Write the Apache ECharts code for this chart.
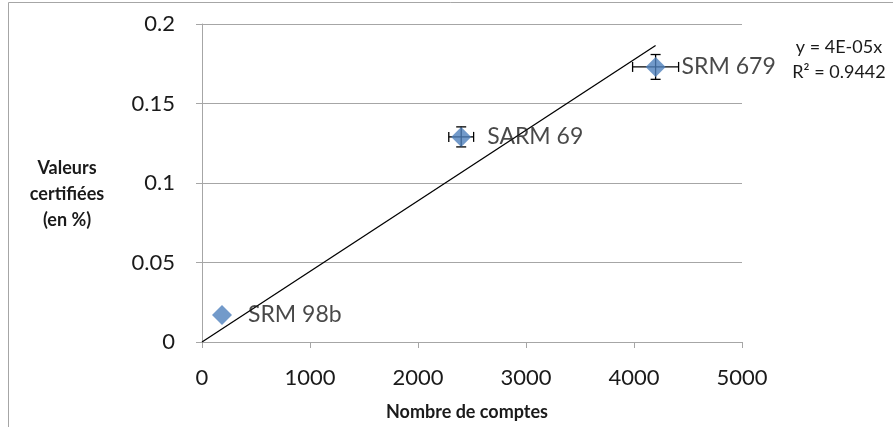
<!DOCTYPE html>
<html>
<head>
<meta charset="utf-8">
<script src="https://cdn.jsdelivr.net/npm/echarts@6/dist/echarts.min.js"></script>
<style>
html,body{margin:0;padding:0;background:#fff;}
#chart{width:893px;height:427px;}
</style>
</head>
<body>
<div id="chart"></div>
<script>
// ---- data ----
var sampleNames = ['SRM 98b', 'SARM 69', 'SRM 679'];
var countValues = [185, 2400, 4200];
var certifiedValues = [0.017, 0.129, 0.173];
var countErrors = [0, 115, 213];
var certifiedErrors = [0, 0.0063, 0.0078];
var trendX = [0, 4200];
var trendSlope = 4.44e-5;
var xTicks = [0, 1000, 2000, 3000, 4000, 5000];
var yTicks = [0, 0.05, 0.1, 0.15, 0.2];
var equationLines = ['y = 4E-05x', 'R² = 0.9442'];
var xTitle = 'Nombre de comptes';
var yTitle = 'Valeurs\ncertifiées\n(en %)';

var FONT = 'Lato, "Open Sans", sans-serif';
var TXT = '#1a1a1a';

var pointData = sampleNames.map(function (n, i) {
  return { name: n, value: [countValues[i], certifiedValues[i]] };
});
var errData = sampleNames.map(function (n, i) {
  return [countValues[i], certifiedValues[i], countErrors[i], certifiedErrors[i]];
});
var trendData = trendX.map(function (x) { return [x, x * trendSlope]; });

var chart = echarts.init(document.getElementById('chart'), null, { renderer: 'canvas' });

var option = {
  backgroundColor: '#fff',
  animation: false,
  grid: { left: 202, right: 151, top: 24, bottom: 85 },
  xAxis: {
    type: 'value', min: xTicks[0], max: xTicks[xTicks.length - 1], interval: xTicks[1] - xTicks[0],
    axisLine: { show: true, lineStyle: { color: '#a6a6a6', width: 1 } },
    axisTick: { show: true, length: 6, lineStyle: { color: '#a6a6a6' } },
    axisLabel: {
      color: TXT, fontSize: 22, fontFamily: FONT, margin: 25,
      formatter: function (v) { return String(v); }
    },
    splitLine: { show: false }
  },
  yAxis: {
    type: 'value', min: yTicks[0], max: yTicks[yTicks.length - 1], interval: 0.05,
    axisLine: { show: true, lineStyle: { color: '#a6a6a6', width: 1 } },
    axisTick: { show: true, length: 6, lineStyle: { color: '#a6a6a6' } },
    axisLabel: {
      color: TXT, fontSize: 22, fontFamily: FONT, margin: 27,
      formatter: function (v) { return String(+v.toFixed(2)); }
    },
    splitLine: { show: true, lineStyle: { color: '#a6a6a6', width: 1 } }
  },
  series: [
    {
      type: 'line', data: trendData, symbol: 'none', z: 3,
      lineStyle: { color: '#000', width: 1.3 }, silent: true
    },
    {
      type: 'custom', z: 4, data: errData,
      renderItem: function (params, api) {
        var x = api.value(0), y = api.value(1), ex = api.value(2), ey = api.value(3);
        var children = [];
        var style = { stroke: '#000', lineWidth: 1.3 };
        if (ex > 0) {
          var l = api.coord([x - ex, y]), r = api.coord([x + ex, y]);
          children.push({ type: 'line', shape: { x1: l[0], y1: l[1], x2: r[0], y2: r[1] }, style: style });
          children.push({ type: 'line', shape: { x1: l[0], y1: l[1] - 5, x2: l[0], y2: l[1] + 5 }, style: style });
          children.push({ type: 'line', shape: { x1: r[0], y1: r[1] - 5, x2: r[0], y2: r[1] + 5 }, style: style });
        }
        if (ey > 0) {
          var t = api.coord([x, y + ey]), b = api.coord([x, y - ey]);
          children.push({ type: 'line', shape: { x1: t[0], y1: t[1], x2: b[0], y2: b[1] }, style: style });
          children.push({ type: 'line', shape: { x1: t[0] - 5, y1: t[1], x2: t[0] + 5, y2: t[1] }, style: style });
          children.push({ type: 'line', shape: { x1: b[0] - 5, y1: b[1], x2: b[0] + 5, y2: b[1] }, style: style });
        }
        return { type: 'group', children: children };
      }
    },
    {
      type: 'scatter', z: 5, data: pointData,
      symbol: 'diamond', symbolSize: 20,
      itemStyle: { color: '#4f81bd' },
      label: {
        show: true, position: 'right', distance: 16,
        formatter: '{b}', color: TXT, fontSize: 23, fontFamily: FONT
      }
    }
  ],
  graphic: [
    { type: 'line', shape: { x1: 8.5, y1: 2.5, x2: 893, y2: 2.5 }, style: { stroke: '#a6a6a6', lineWidth: 1 } },
    { type: 'line', shape: { x1: 8.5, y1: 2.5, x2: 8.5, y2: 427 }, style: { stroke: '#a6a6a6', lineWidth: 1 } },
    {
      type: 'text', x: 67, y: 194,
      style: {
        text: yTitle, fill: TXT,
        font: 'bold 18px ' + FONT, textAlign: 'center', textVerticalAlign: 'middle', lineHeight: 26
      }
    },
    {
      type: 'text', x: 467, y: 412,
      style: {
        text: xTitle, fill: TXT,
        font: 'bold 18px ' + FONT, textAlign: 'center', textVerticalAlign: 'middle'
      }
    },
    {
      type: 'text', x: 839, y: 60,
      style: {
        text: equationLines.join('\n'), fill: TXT,
        font: '18px ' + FONT, textAlign: 'center', textVerticalAlign: 'middle', lineHeight: 25
      }
    }
  ]
};
chart.setOption(option);
</script>
</body>
</html>
